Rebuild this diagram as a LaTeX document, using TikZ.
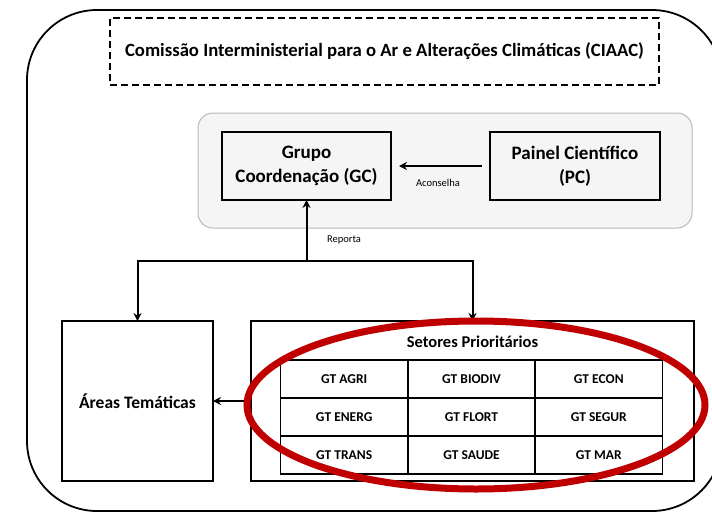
\documentclass[tikz,border=0pt]{standalone}
\usepackage{fontspec}
\setmainfont{Carlito}
\usepackage{tikz}
\usetikzlibrary{arrows.meta, positioning, calc}
\definecolor{ciaacred}{RGB}{192,0,0}
\definecolor{panelgray}{RGB}{245,245,245}
\definecolor{panelline}{RGB}{185,185,185}

\begin{document}
\begin{tikzpicture}[
    x=1pt, y=-1pt,        % pixel-like grid, y going down
    box/.style={rectangle, draw=black, line width=1.8pt, align=center,
                inner sep=0pt, outer sep=0pt, font=\fontsize{19}{24}\selectfont\bfseries},
    cell/.style={rectangle, draw=black, line width=1.8pt, minimum width=127.3pt,
                 minimum height=38pt, inner sep=0pt, outer sep=0pt,
                 font=\fontsize{13.5}{15}\selectfont\bfseries},
    panel/.style={rectangle, rounded corners=15pt, draw=panelline, fill=panelgray, line width=1pt},
    arrow/.style={-{Stealth[length=8pt, width=8pt]}, line width=2pt},
    tag/.style={font=\fontsize{10.5}{12}\selectfont}
]
\useasboundingbox (0,0) rectangle (712,512);

% outer frame
\draw[line width=1.8pt, rounded corners=70pt] (27,10) rectangle (722,511);

% CIAAC
\node[box, dashed, dash pattern=on 7pt off 4pt, line width=1.5pt, minimum width=549pt, minimum height=67pt,
      font=\fontsize{18.7}{22}\selectfont\bfseries] (ciaac) at (384.5,51.5)
      {Comissão Interministerial para o Ar e Alterações Climáticas (CIAAC)};

% panel with GC and PC
\node[panel, minimum width=494pt, minimum height=115pt] (painel) at (445,170.5) {};
\node[box, minimum width=169pt, minimum height=68pt] (gc) at (306.5,166) {Grupo\\Coordenação (GC)};
\node[box, minimum width=170pt, minimum height=68pt] (pc) at (575,166) {Painel Científico\\(PC)};

\draw[arrow, shorten <=8pt, shorten >=8pt] (pc) -- (gc);
\node[tag] (aconselha) at (438,183) {Aconselha};

% lower boxes
\node[box, minimum width=151pt, minimum height=160pt, font=\fontsize{17.5}{20}\selectfont\bfseries] (areas) at (137.5,401) {Áreas Temáticas};
\node[box, minimum width=443pt, minimum height=160pt] (setores) at (472.5,401) {};
\node[font=\fontsize{16.5}{18}\selectfont\bfseries] (titulo) at (472.5,342) {Setores Prioritários};

\node[cell] (agri) at (344.2,379) {GT AGRI};
\node[cell, right=0pt of agri] (biodiv) {GT BIODIV};
\node[cell, right=0pt of biodiv] (econ) {GT ECON};
\node[cell, below=0pt of agri] (energ) {GT ENERG};
\node[cell, right=0pt of energ] (flort) {GT FLORT};
\node[cell, right=0pt of flort] (segur) {GT SEGUR};
\node[cell, below=0pt of energ] (trans) {GT TRANS};
\node[cell, right=0pt of trans] (saude) {GT SAUDE};
\node[cell, right=0pt of saude] (mar) {GT MAR};

% connectors
\coordinate (split) at (306.5,261);
\draw[arrow] (split) -- (gc);
\draw[arrow] (split) -| (areas);
\draw[arrow] (split) -| (setores);
\node[tag] (reporta) at (344,240) {Reporta};
\draw[arrow] (setores) -- (areas);

% highlight
\draw[ciaacred, line width=7pt] (476,405) ellipse [x radius=229, y radius=84];

\end{tikzpicture}
\end{document}
